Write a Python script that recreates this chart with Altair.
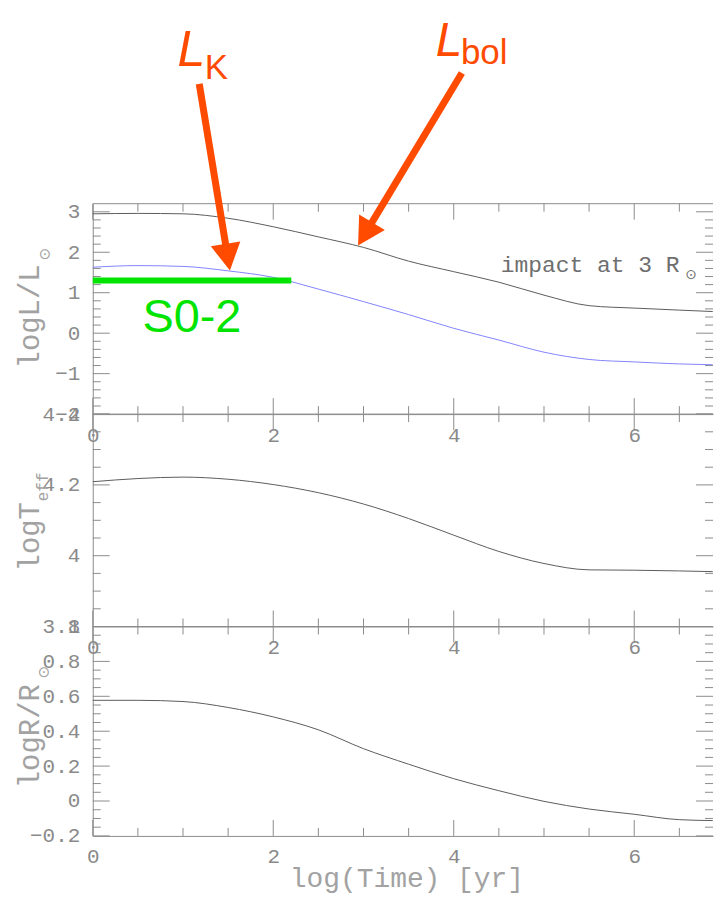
import math
import altair as alt
import pandas as pd

# ---------------- data ----------------
LOG_TIME = [0.0, 0.5, 1.0, 1.5, 2.0, 2.5, 3.0, 3.5, 4.0, 4.5, 5.0, 5.5, 6.0, 6.5, 6.87]
LOG_LBOL = [2.95, 2.96, 2.95, 2.84, 2.63, 2.38, 2.12, 1.78, 1.52, 1.26, 0.94, 0.68, 0.62, 0.57, 0.535]
LOG_LK = [1.63, 1.67, 1.65, 1.54, 1.38, 1.09, 0.78, 0.46, 0.12, -0.17, -0.47, -0.65, -0.71, -0.76, -0.78]
LOG_TEFF = [4.209, 4.218, 4.222, 4.216, 4.201, 4.178, 4.146, 4.105, 4.058, 4.012, 3.978, 3.960, 3.959, 3.957, 3.955]
LOG_R = [0.577, 0.577, 0.570, 0.536, 0.482, 0.408, 0.300, 0.211, 0.128, 0.059, -0.002, -0.046, -0.076, -0.107, -0.112]

S02_LOGL = 1.3
S02_T0, S02_T1 = 0.0, 2.2

X_LABELS = [0, 2, 4, 6]
X_MINOR = [0.5, 1, 1.5, 2.5, 3, 3.5, 4.5, 5, 5.5, 6.5]
Y1_LABELS = [-2, -1, 0, 1, 2, 3]
Y2_LABELS = [3.8, 4.0, 4.2, 4.4]
Y3_LABELS = [-0.2, 0, 0.2, 0.4, 0.6, 0.8, 1.0]
Y1_MINOR = [round(-2 + 0.2 * i, 2) for i in range(1, 26) if i % 5]
Y2_MINOR = [round(3.8 + 0.05 * i, 3) for i in range(1, 12) if i % 4]
Y3_MINOR = [round(-0.2 + 0.05 * i, 3) for i in range(1, 24) if i % 4]

W = 622
XDOM = [0, round(W / 90.5, 4)]
Y1DOM = [-2, 3.2]
Y2DOM = [3.8, 4.4]
Y3DOM = [-0.2, 1.0]

# ---------------- style ----------------
H1, H2, H3 = 211, 213, 210
FRAME = "#8c8c8c"
LABEL = "#8a8a8a"
TITLE = "#a2a2a2"
CURVE = "#5c5c5c"
BLUE = "#8484ff"
GREEN = "#00e400"
ORANGE = "#ff4b00"
MONO = "Liberation Mono"
SANS = "Liberation Sans"
ARROW = "M0,0L-1,-1.8L1,-1.8Z"

PXX = W / (XDOM[1] - XDOM[0])
PXY1 = H1 / (Y1DOM[1] - Y1DOM[0])


def xq(field):
    return alt.X(
        f"{field}:Q",
        scale=alt.Scale(domain=XDOM, nice=False, zero=False),
        axis=alt.Axis(values=X_LABELS, format="d", title=None, ticks=False, tickSize=0,
                      grid=False, domain=True, domainColor=FRAME, domainWidth=1,
                      labelFont=MONO, labelFontSize=21, labelColor=LABEL, labelPadding=10,
                      labelFlush=False, labelOverlap=False, labelBaseline="top"),
    )


def yq(field, dom, labels):
    return alt.Y(
        f"{field}:Q",
        scale=alt.Scale(domain=dom, nice=False, zero=False),
        axis=alt.Axis(values=labels, labelExpr="format(datum.value, '~g')", title=None,
                      ticks=False, tickSize=0, grid=False, domain=True, domainColor=FRAME,
                      domainWidth=1, labelFont=MONO, labelFontSize=21, labelColor=LABEL,
                      labelPadding=13, labelFlush=False, labelOverlap=False,
                      labelBaseline="middle", labelAlign="right"),
    )


def frame_layers(dom, ymaj, ymin, H):
    out = []
    for vals, L in ((X_LABELS, 16), (X_MINOR, 8)):
        base = alt.Chart(pd.DataFrame({"v": vals})).mark_rule(color=FRAME, strokeWidth=1)
        out.append(base.encode(x=xq("v"), y=alt.value(H), y2=alt.value(H - L)))
        out.append(base.encode(x=xq("v"), y=alt.value(0), y2=alt.value(L)))
    for vals, L in ((ymaj, 17), (ymin, 8)):
        base = alt.Chart(pd.DataFrame({"v": vals})).mark_rule(color=FRAME, strokeWidth=1)
        out.append(base.encode(y=yq("v", dom, ymaj), x=alt.value(0), x2=alt.value(L)))
        out.append(base.encode(y=yq("v", dom, ymaj), x=alt.value(W), x2=alt.value(W - L)))
    out.append(alt.Chart(pd.DataFrame({"v": [0]})).mark_rule(color=FRAME, strokeWidth=1)
               .encode(x=alt.value(0), x2=alt.value(W), y=alt.value(0)))
    return out


def pix_text(s, x, y, size, color=TITLE, font=MONO, angle=0, align="center", baseline="alphabetic"):
    kw = dict(font=font, fontSize=size, color=color, align=align, baseline=baseline)
    if angle:
        kw["angle"] = angle
    return (alt.Chart(pd.DataFrame({"s": [s]})).mark_text(**kw)
            .encode(text="s:N", x=alt.value(x), y=alt.value(y)))


def data_text(s, x, y, size, color, font, dom, labels, align="left", baseline="alphabetic", style="normal"):
    return (alt.Chart(pd.DataFrame({"s": [s], "x": [x], "y": [y]}))
            .mark_text(font=font, fontSize=size, color=color, align=align, baseline=baseline, fontStyle=style)
            .encode(text="s:N", x=xq("x"), y=yq("y", dom, labels)))


def arrow(sx, sy, tx, ty, back=22):
    dxp = (tx - sx) * PXX
    dyp = (sy - ty) * PXY1
    n = math.hypot(dxp, dyp)
    ux, uy = dxp / n, dyp / n
    bx = tx - back * ux / PXX
    by = ty + back * uy / PXY1
    ang = math.degrees(math.atan2(-dxp, dyp)) % 360
    shaft = (alt.Chart(pd.DataFrame({"x": [sx], "y": [sy], "x2": [bx], "y2": [by]}))
             .mark_rule(color=ORANGE, strokeWidth=7, strokeCap="butt")
             .encode(x=xq("x"), y=yq("y", Y1DOM, Y1_LABELS), x2="x2:Q", y2="y2:Q"))
    head = (alt.Chart(pd.DataFrame({"x": [tx], "y": [ty], "a": [ang]}))
            .mark_point(shape=ARROW, filled=True, size=900, opacity=1, color=ORANGE, strokeWidth=0)
            .encode(x=xq("x"), y=yq("y", Y1DOM, Y1_LABELS), angle=alt.Angle("a:Q", scale=None)))
    return [shaft, head]


# ---------------- panel 1: luminosity ----------------
df1 = pd.DataFrame({"t": LOG_TIME, "lbol": LOG_LBOL, "lk": LOG_LK})
p1_layers = frame_layers(Y1DOM, Y1_LABELS, Y1_MINOR, H1)
p1_layers += [
    alt.Chart(df1).mark_line(color=CURVE, strokeWidth=1, interpolate="monotone")
    .encode(x=xq("t"), y=yq("lbol", Y1DOM, Y1_LABELS)),
    alt.Chart(df1).mark_line(color=BLUE, strokeWidth=1, interpolate="monotone")
    .encode(x=xq("t"), y=yq("lk", Y1DOM, Y1_LABELS)),
    alt.Chart(pd.DataFrame({"t0": [S02_T0], "t1": [S02_T1], "y": [S02_LOGL]}))
    .mark_rule(color=GREEN, strokeWidth=6, strokeCap="butt")
    .encode(x=xq("t0"), x2="t1:Q", y=yq("y", Y1DOM, Y1_LABELS)),
    data_text("S0-2", 0.55, 0.02, 47, GREEN, SANS, Y1DOM, Y1_LABELS),
    data_text("impact at 3 R", 4.52, 1.50, 23, "#6e6e6e", MONO, Y1DOM, Y1_LABELS),
    data_text("\u2299", 6.63, 1.43, 14, "#6e6e6e", "DejaVu Sans", Y1DOM, Y1_LABELS,
              align="center", baseline="middle"),
    data_text("L", 0.94, 6.60, 50, ORANGE, SANS, Y1DOM, Y1_LABELS, style="italic"),
    data_text("K", 1.24, 6.28, 35, ORANGE, SANS, Y1DOM, Y1_LABELS),
    data_text("L", 3.80, 6.84, 48, ORANGE, SANS, Y1DOM, Y1_LABELS, style="italic"),
    data_text("bol", 4.08, 6.66, 35, ORANGE, SANS, Y1DOM, Y1_LABELS),
]
p1_layers += arrow(1.18, 6.16, 1.52, 1.55)
p1_layers += arrow(4.09, 6.43, 2.94, 2.17)
p1_layers += [
    pix_text("logL/L", -54, 113, 29, angle=270),
    pix_text("\u2299", -48, 50, 15, font="DejaVu Sans", baseline="middle"),
    # page anchor (white, invisible on the white page)
    alt.Chart(pd.DataFrame({"v": [0]})).mark_rule(color="white", strokeWidth=1)
    .encode(x=alt.value(-84.5), x2=alt.value(-83.5), y=alt.value(-194.5)),
]
p1 = alt.layer(*p1_layers).properties(width=W, height=H1)

# ---------------- panel 2: Teff ----------------
df2 = pd.DataFrame({"t": LOG_TIME, "teff": LOG_TEFF})
p2_layers = frame_layers(Y2DOM, Y2_LABELS, Y2_MINOR, H2)
p2_layers += [
    alt.Chart(df2).mark_line(color=CURVE, strokeWidth=1, interpolate="monotone")
    .encode(x=xq("t"), y=yq("teff", Y2DOM, Y2_LABELS)),
    pix_text("logT", -54, 123, 29, angle=270),
    pix_text("eff", -45, 73, 16, angle=270),
]
p2 = alt.layer(*p2_layers).properties(width=W, height=H2)

# ---------------- panel 3: radius ----------------
df3 = pd.DataFrame({"t": LOG_TIME, "r": LOG_R})
p3_layers = frame_layers(Y3DOM, Y3_LABELS, Y3_MINOR, H3)
p3_layers += [
    alt.Chart(df3).mark_line(color=CURVE, strokeWidth=1, interpolate="monotone")
    .encode(x=xq("t"), y=yq("r", Y3DOM, Y3_LABELS)),
    pix_text("logR/R", -54, 110, 29, angle=270),
    pix_text("\u2299", -49, 46, 15, font="DejaVu Sans", baseline="middle"),
    pix_text("log(Time) [yr]", 315, 261, 28),
]
p3 = alt.layer(*p3_layers).properties(width=W, height=H3)

chart = (
    alt.vconcat(p1, p2, p3, spacing=0, bounds="flush")
    .properties(padding={"left": 0, "right": 0, "top": 0, "bottom": 0}, background="white")
    .configure_view(stroke=None)
    .configure_axis(grid=False)
)

chart.save("out.html", embed_options={"renderer": "svg", "actions": False})
